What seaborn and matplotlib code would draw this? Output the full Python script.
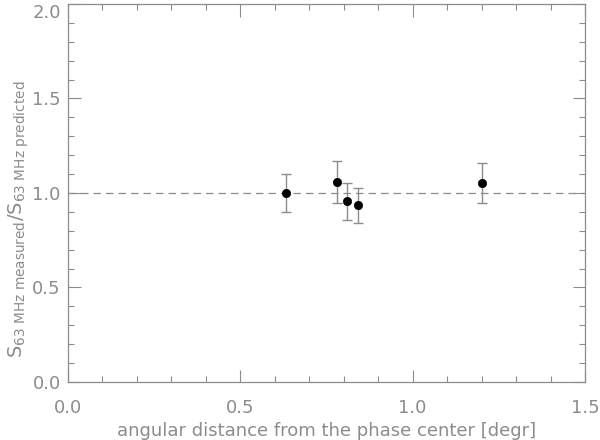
import matplotlib
matplotlib.use("Agg")
import matplotlib.pyplot as plt
import seaborn as sns
import pandas as pd
from matplotlib.ticker import MultipleLocator, FormatStrFormatter

# Data
distance = [0.632, 0.781, 0.810, 0.841, 1.201]
ratio = [1.00, 1.059, 0.955, 0.934, 1.053]
ratio_err = [0.10, 0.11, 0.097, 0.094, 0.108]

df = pd.DataFrame({
    "distance": distance,
    "ratio": ratio,
    "err": ratio_err
})

sns.set_style("ticks")
plt.rcParams["font.family"] = ["DejaVu Sans"]
plt.rcParams["mathtext.fontset"] = "dejavusans"

grey = "#8c8c8c"

fig = plt.figure(figsize=(6, 4.4), dpi=100)
ax = fig.add_axes([0.113, 0.132, 0.862, 0.859])

# Reference line at ratio = 1
ax.axhline(1.0, color=grey, lw=0.9, ls=(0, (6, 4)), zorder=1)

# Error bars
ax.errorbar(
    df["distance"],
    df["ratio"],
    yerr=df["err"],
    fmt="none",
    ecolor=grey,
    elinewidth=1.0,
    capsize=3.5,
    capthick=1.0,
    zorder=2
)

# Points
sns.scatterplot(
    data=df,
    x="distance",
    y="ratio",
    color="black",
    s=36,
    edgecolor="black",
    zorder=3,
    ax=ax
)

ax.set_xlim(0, 1.5)
ax.set_ylim(0, 2.0)

ax.xaxis.set_major_locator(MultipleLocator(0.5))
ax.xaxis.set_minor_locator(MultipleLocator(0.1))
ax.yaxis.set_major_locator(MultipleLocator(0.5))
ax.yaxis.set_minor_locator(MultipleLocator(0.1))
ax.xaxis.set_major_formatter(FormatStrFormatter("%.1f"))
ax.yaxis.set_major_formatter(FormatStrFormatter("%.1f"))

ax.tick_params(
    which="both",
    direction="in",
    top=True,
    right=True,
    colors=grey,
    labelcolor=grey,
    labelsize=13,
    width=0.8
)
ax.tick_params(which="major", length=9)
ax.tick_params(which="minor", length=4.5)
ax.tick_params(axis="x", which="major", pad=12)
ax.tick_params(axis="y", which="major", pad=5)

# keep the top label (2.0) inside the figure
fig.canvas.draw()
for tick in ax.yaxis.get_major_ticks():
    if abs(tick.get_loc() - 2.0) < 1e-6:
        tick.label1.set_verticalalignment("top")

for spine in ax.spines.values():
    spine.set_color(grey)
    spine.set_linewidth(0.9)
    spine.set_visible(True)

ax.set_xlabel(
    "angular distance from the phase center [degr]",
    color=grey,
    fontsize=13,
    labelpad=4
)
ax.set_ylabel(
    r"$\mathrm{S}_{\rm 63\ MHz\ measured}/\mathrm{S}_{\rm 63\ MHz\ predicted}$",
    color=grey,
    fontsize=14
)
ax.yaxis.set_label_coords(-0.072, 0.43)

fig.savefig("out.png", dpi=100)
plt.close(fig)
